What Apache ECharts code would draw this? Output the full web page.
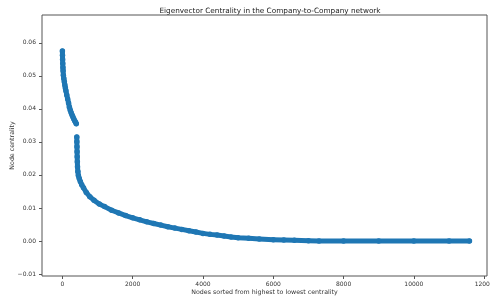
<!DOCTYPE html>
<html>
<head>
<meta charset="utf-8">
<title>Eigenvector Centrality</title>
<script src="https://cdn.jsdelivr.net/npm/echarts@6/dist/echarts.min.js"></script>
<style>
  html, body { margin: 0; padding: 0; background: #fff; }
  #chart { width: 490px; height: 299px; }
</style>
</head>
<body>
<div id="chart"></div>
<script>
// first block of nodes (rank -> centrality)
var headRanks  = [0, 3, 6, 10, 15, 20, 28, 40, 55, 70, 85, 100, 125, 150, 175, 200, 225, 250, 275, 300, 325, 350, 375, 395];
var headValues = [0.0575, 0.0562, 0.0549, 0.0537, 0.0525, 0.0515, 0.0502, 0.0492, 0.0482, 0.0472, 0.0463, 0.0455, 0.0442, 0.0430, 0.0418, 0.0405, 0.0396, 0.0388, 0.0381, 0.0375, 0.0369, 0.0364, 0.0359, 0.0355];

// rest of the nodes after the jump
var tailRanks  = [410, 412, 415, 418, 421, 425, 430, 440, 455, 480, 510, 550, 600, 680, 780, 900, 1050, 1200, 1400, 1600, 1800, 2000, 2200, 2400, 2600, 2800, 3000, 3200, 3400, 3600, 3800, 4000, 4200, 4400, 4600, 4800, 5000, 5300, 5600, 6000, 6300, 6600, 7000, 7300, 8000, 9000, 10000, 11000, 11580];
var tailValues = [0.0315, 0.0300, 0.0285, 0.0270, 0.0255, 0.0240, 0.0225, 0.0210, 0.0198, 0.0189, 0.0180, 0.0170, 0.0161, 0.0147, 0.0134, 0.0123, 0.0112, 0.0104, 0.0093, 0.0085, 0.0077, 0.0070, 0.0064, 0.0058, 0.0053, 0.0048, 0.0043, 0.0039, 0.0035, 0.0031, 0.0027, 0.0023, 0.0020, 0.0018, 0.0015, 0.0012, 0.0010, 0.0008, 0.0006, 0.0004, 0.0003, 0.0002, 0.0001, 0.0000, 0.0000, 0.0000, 0.0000, 0.0000, 0.0000];

var xTicks = [0, 2000, 4000, 6000, 8000, 10000, 12000];
var yTicks = [-0.01, 0, 0.01, 0.02, 0.03, 0.04, 0.05, 0.06];

var pairs = function (xs, ys) {
  var out = [];
  for (var i = 0; i < xs.length; i++) out.push([xs[i], ys[i]]);
  return out;
};

var blue = '#1f77b4';
var font = 'DejaVu Sans';

var chart = echarts.init(document.getElementById('chart'), null, { renderer: 'canvas' });

var makeSeries = function (data) {
  return {
    type: 'line',
    data: data,
    symbol: 'circle',
    symbolSize: 5.5,
    showSymbol: true,
    showAllSymbol: true,
    itemStyle: { color: blue },
    lineStyle: { color: blue, width: 5, cap: 'round', join: 'round' },
    animation: false,
    silent: true
  };
};

chart.setOption({
  animation: false,
  title: {
    text: 'Eigenvector Centrality in the Company-to-Company network',
    left: 265,
    top: 3,
    textAlign: 'center',
    textStyle: { fontFamily: font, fontSize: 7.3, fontWeight: 'normal', color: '#222' }
  },
  grid: {
    left: 42, right: 3, top: 15, bottom: 23,
    show: true, borderColor: '#555', borderWidth: 1,
    containLabel: false,
    outerBoundsMode: 'none'
  },
  xAxis: {
    type: 'value',
    min: -580,
    max: 12080,
    name: 'Nodes sorted from highest to lowest centrality',
    nameLocation: 'middle',
    nameGap: 13,
    nameMoveOverlap: false,
    nameTextStyle: { fontFamily: font, fontSize: 6.3, color: '#333', verticalAlign: 'top' },
    axisLine: { show: false, onZero: false },
    axisTick: { show: true, length: 3, customValues: xTicks, lineStyle: { color: '#555' } },
    axisLabel: {
      customValues: xTicks, fontFamily: font, fontSize: 6, color: '#333', margin: 5,
      hideOverlap: false,
      formatter: function (v) { return String(v); }
    },
    splitLine: { show: false }
  },
  yAxis: {
    type: 'value',
    min: -0.0106,
    max: 0.0684,
    name: 'Node centrality',
    nameLocation: 'middle',
    nameGap: 27,
    nameRotate: 90,
    nameMoveOverlap: false,
    nameTextStyle: { fontFamily: font, fontSize: 6.3, color: '#333' },
    axisLine: { show: false, onZero: false },
    axisTick: { show: true, length: 3, customValues: yTicks, lineStyle: { color: '#555' } },
    axisLabel: {
      customValues: yTicks,
      fontFamily: font, fontSize: 6, color: '#333', margin: 6,
      formatter: function (v) { return v.toFixed(2).replace('-', '\u2212'); }
    },
    splitLine: { show: false }
  },
  series: [
    makeSeries(pairs(headRanks, headValues)),
    makeSeries(pairs(tailRanks, tailValues))
  ]
});
</script>
</body>
</html>
